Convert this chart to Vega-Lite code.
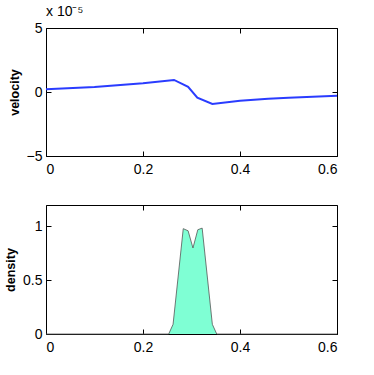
{
  "$schema": "https://vega.github.io/schema/vega-lite/v6.json",
  "background": "white",
  "padding": {"left": 4, "top": 4, "right": 5, "bottom": 5},
  "spacing": 27,
  "config": {
    "font": "Liberation Sans",
    "view": {"stroke": "black", "strokeWidth": 1},
    "axis": {
      "domain": false,
      "grid": false,
      "tickColor": "black",
      "tickSize": -5,
      "labelFont": "Liberation Sans",
      "labelFontSize": 14,
      "labelColor": "black",
      "titleFont": "Liberation Sans",
      "titleFontSize": 12.5,
      "titleFontWeight": "bold",
      "titleColor": "black"
    },
    "axisX": {"labelPadding": 11, "format": "~g"},
    "axisY": {"labelPadding": 9, "format": "~g"}
  },
  "datasets": {
    "vel": [
      {"x": 0, "velocity": 0.0000021},
      {"x": 0.1, "velocity": 0.0000040},
      {"x": 0.2, "velocity": 0.0000068},
      {"x": 0.264, "velocity": 0.0000094},
      {"x": 0.293, "velocity": 0.0000041},
      {"x": 0.312, "velocity": -0.0000045},
      {"x": 0.343, "velocity": -0.0000094},
      {"x": 0.4, "velocity": -0.0000068},
      {"x": 0.458, "velocity": -0.0000052},
      {"x": 0.5, "velocity": -0.0000044},
      {"x": 0.6, "velocity": -0.0000029}
    ],
    "dens": [
      {"x": 0, "density": 0},
      {"x": 0.253, "density": 0},
      {"x": 0.262, "density": 0.09},
      {"x": 0.283, "density": 0.98},
      {"x": 0.293, "density": 0.96},
      {"x": 0.303, "density": 0.80},
      {"x": 0.313, "density": 0.97},
      {"x": 0.322, "density": 0.985},
      {"x": 0.343, "density": 0.09},
      {"x": 0.352, "density": 0},
      {"x": 0.6, "density": 0}
    ]
  },
  "vconcat": [
    {
      "width": 291,
      "height": 128,
      "title": {"text": "x 10⁻⁵", "anchor": "start", "frame": "group", "fontSize": 14, "fontWeight": "normal", "font": "Liberation Sans", "offset": 2, "color": "black"},
      "data": {"name": "vel"},
      "layer": [
        {
          "mark": {"type": "line", "color": "#2a3cff", "strokeWidth": 2},
          "encoding": {
            "x": {"field": "x", "type": "quantitative", "scale": {"domain": [0, 0.6], "nice": false}, "axis": {"orient": "bottom", "values": [0, 0.2, 0.4, 0.6], "title": null}},
            "y": {"field": "velocity", "type": "quantitative", "scale": {"domain": [-0.00005, 0.00005], "nice": false}, "axis": {"orient": "left", "values": [-0.00005, 0, 0.00005], "labelExpr": "format(round(datum.value*100000),'d')", "title": "velocity", "titlePadding": 5}}
          }
        },
        {
          "mark": {"type": "line", "opacity": 0},
          "encoding": {
            "x": {"field": "x", "type": "quantitative", "axis": {"orient": "top", "values": [0, 0.2, 0.4, 0.6], "labels": false, "title": null}},
            "y": {"field": "velocity", "type": "quantitative", "axis": {"orient": "right", "values": [-0.00005, 0, 0.00005], "labels": false, "title": null}}
          }
        }
      ],
      "resolve": {"axis": {"x": "independent", "y": "independent"}}
    },
    {
      "width": 291,
      "height": 129,
      "data": {"name": "dens"},
      "layer": [
        {
          "mark": {"type": "area", "color": "#7fffd4", "opacity": 1, "line": {"color": "#555555", "strokeWidth": 0.8}},
          "encoding": {
            "x": {"field": "x", "type": "quantitative", "scale": {"domain": [0, 0.6], "nice": false}, "axis": {"orient": "bottom", "values": [0, 0.2, 0.4, 0.6], "title": null}},
            "y": {"field": "density", "type": "quantitative", "scale": {"domain": [0, 1.2], "nice": false}, "axis": {"orient": "left", "values": [0, 0.5, 1], "title": "density", "titlePadding": 5}}
          }
        },
        {
          "mark": {"type": "line", "opacity": 0},
          "encoding": {
            "x": {"field": "x", "type": "quantitative", "axis": {"orient": "top", "values": [0, 0.2, 0.4, 0.6], "labels": false, "title": null}},
            "y": {"field": "density", "type": "quantitative", "axis": {"orient": "right", "values": [0, 0.5, 1], "labels": false, "title": null}}
          }
        }
      ],
      "resolve": {"axis": {"x": "independent", "y": "independent"}}
    }
  ]
}
